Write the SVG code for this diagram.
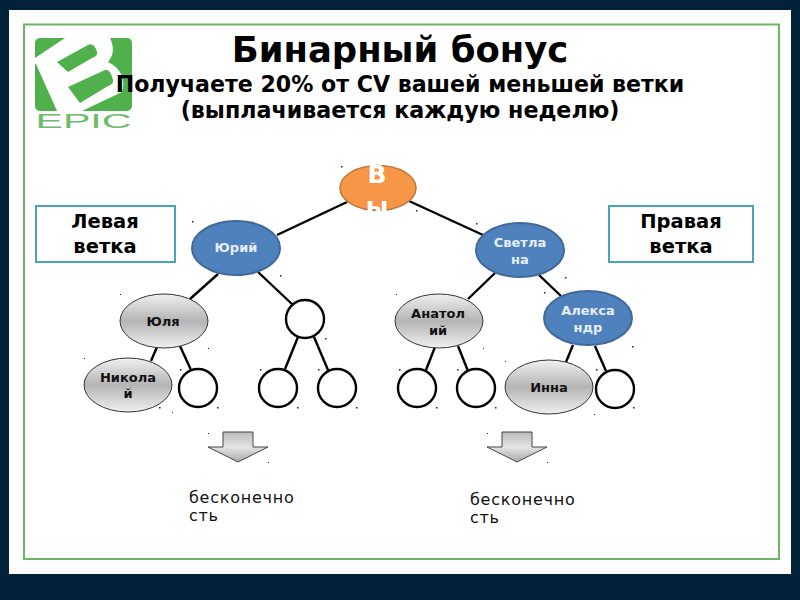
<svg xmlns="http://www.w3.org/2000/svg" width="800" height="600" viewBox="0 0 800 600">
<style>
text{font-family:"DejaVu Sans","Noto Sans",sans-serif;text-anchor:middle}
.b{font-weight:bold}
.nl{font-size:13px;font-weight:bold;fill:#111}
.nw{font-size:13px;font-weight:bold;fill:#e6eef8}
.blue{fill:#4f81bd;stroke:#41699a;stroke-width:2}
.grey{fill:url(#g);stroke:#333;stroke-width:1}
.emp{fill:#fff;stroke:#000;stroke-width:2.4}
.box{fill:#fff;stroke:#4ba3b8;stroke-width:2}
.lab{font-size:19.500px;font-weight:bold}
.inf{font-size:16px;letter-spacing:.75px;text-anchor:start;fill:#111}
.arr{fill:url(#ga);stroke:#444;stroke-width:1}
#conn line{stroke:#000;stroke-width:2.4}
</style>
<defs>
<linearGradient id="g" x1="0" y1="0" x2="0" y2="1"><stop offset="0" stop-color="#f0f0f0"/><stop offset=".5" stop-color="#b4b4b4"/><stop offset="1" stop-color="#f0f0f0"/></linearGradient>
<linearGradient id="ga" x1="0" y1="0" x2="0" y2="1"><stop offset="0" stop-color="#bbb"/><stop offset=".5" stop-color="#e4e4e4"/><stop offset="1" stop-color="#aaa"/></linearGradient>
</defs>
<rect width="800" height="600" fill="#012238"/>
<rect x="9" y="10" width="782" height="564" fill="#fff"/>
<rect x="24" y="24.500" width="755" height="534.500" fill="none" stroke="#6cb562" stroke-width="2"/>
<g id="logo">
<rect x="35" y="38" width="97" height="73" rx="5" fill="#4fb04c"/>
<path d="M35,58 L65,38 L110,38 C115,48 113,56 108,62 C121,68 126,80 122,92 L82,111 L57,111 L36,64 L35,64Z" fill="#fff"/>
<path d="M57,62 L88,45 Q94,42 97,52 Q98,56 92,58 L68,72Z M68,87 L105,70 Q110,68 113,80 Q114,84 108,86 L80,103Z" fill="#4fb04c"/>
<text x="83.500" y="128" font-size="21" textLength="96" lengthAdjust="spacingAndGlyphs" style="font-family:'Liberation Sans',sans-serif" fill="#6cbb68">EPIC</text>
</g>
<g id="title">
<text x="400" y="62" class="b" font-size="35.400">Бинарный бонус</text>
<text x="400" y="92" class="b" font-size="22.100">Получаете 20% от CV вашей меньшей ветки</text>
<text x="400" y="118" class="b" font-size="22.200">(выплачивается каждую неделю)</text>
</g>
<g id="conn">
<line x1="347" y1="202" x2="277" y2="235"/>
<line x1="409" y1="201" x2="483" y2="235"/>
<line x1="218" y1="274" x2="190" y2="299"/>
<line x1="258" y1="272" x2="293" y2="305"/>
<line x1="157" y1="347" x2="151" y2="361"/>
<line x1="180" y1="346" x2="191" y2="370"/>
<line x1="298" y1="337" x2="285" y2="369"/>
<line x1="314" y1="337" x2="328" y2="370"/>
<line x1="495" y1="273" x2="468" y2="299"/>
<line x1="539" y1="275" x2="561" y2="296"/>
<line x1="435" y1="347" x2="426" y2="370"/>
<line x1="458" y1="346" x2="468" y2="371"/>
<line x1="573" y1="345" x2="566" y2="362"/>
<line x1="595" y1="346" x2="606" y2="371"/>
</g>
<g id="left-label"><rect class="box" x="36" y="206" width="139" height="56"/><text class="lab" x="105" y="228">Левая</text><text class="lab" x="105" y="253">ветка</text></g>
<g id="right-label"><rect class="box" x="609" y="206" width="144" height="56"/><text class="lab" x="681" y="228">Правая</text><text class="lab" x="681" y="253">ветка</text></g>
<g id="you"><ellipse cx="378" cy="188" rx="38" ry="22.500" fill="#f79646" stroke="#c0763a" stroke-width="1.500"/><text x="377" y="183" class="b" font-size="25" fill="#fff">В</text><text x="377" y="215" class="b" font-size="25" fill="#fff">ы</text></g>
<g id="yuri"><ellipse class="blue" cx="236" cy="248" rx="44" ry="27"/><text class="nw" x="236" y="252">Юрий</text></g>
<g id="svetlana"><ellipse class="blue" cx="520" cy="250" rx="44" ry="27"/><text class="nw" x="520" y="247">Светла</text><text class="nw" x="520" y="264">на</text></g>
<g id="yulia"><ellipse class="grey" cx="164" cy="321" rx="44" ry="27"/><text class="nl" x="163" y="326">Юля</text></g>
<g id="n-empty1"><circle class="emp" cx="305" cy="319" r="19"/></g>
<g id="anatoly"><ellipse class="grey" cx="439" cy="321" rx="44" ry="27"/><text class="nl" x="438" y="318">Анатол</text><text class="nl" x="438" y="335">ий</text></g>
<g id="alexandr"><ellipse class="blue" cx="588" cy="318" rx="44" ry="27"/><text class="nw" x="588" y="315">Алекса</text><text class="nw" x="588" y="332">ндр</text></g>
<g id="nikolay"><ellipse class="grey" cx="128" cy="385" rx="44" ry="27"/><text class="nl" x="128" y="382">Никола</text><text class="nl" x="128" y="398">й</text></g>
<g id="n-empty2"><circle class="emp" cx="198" cy="388" r="19"/></g>
<g id="n-empty3"><circle class="emp" cx="278" cy="388" r="19"/></g>
<g id="n-empty4"><circle class="emp" cx="337" cy="388" r="19"/></g>
<g id="n-empty5"><circle class="emp" cx="417" cy="388" r="19"/></g>
<g id="n-empty6"><circle class="emp" cx="476" cy="388" r="19"/></g>
<g id="inna"><ellipse class="grey" cx="549" cy="387" rx="44" ry="27"/><text class="nl" x="549" y="392">Инна</text></g>
<g id="n-empty7"><circle class="emp" cx="615" cy="389" r="19"/></g>
<g id="arrow-left"><path class="arr" d="M223,432H253V447H268L238,462L208,447H223Z"/></g>
<g id="arrow-right"><path class="arr" d="M502,432H532V447H547L517,462L487,447H502Z"/></g>
<g id="inf-left"><text class="inf" x="189" y="503">бесконечно</text><text class="inf" x="189" y="521">сть</text></g>
<g id="inf-right"><text class="inf" x="470" y="505">бесконечно</text><text class="inf" x="470" y="523">сть</text></g>
<path id="specks" fill="#222" d="M120,294h1v1h-1zM208,348h1v1h-1zM84,358h1v1h-1zM172,412h1v1h-1zM180,369h1.500v1.500h-1.500zM217,407h1.500v1.500h-1.500zM260,369h1.500v1.500h-1.500zM297,407h1.500v1.500h-1.500zM318,369h1.500v1.500h-1.500zM356,407h1.500v1.500h-1.500zM280,275h1.500v1.500h-1.500zM325,338h1.500v1.500h-1.500zM208,433h1v1h-1zM268,462h1v1h-1zM159,407h1.500v1.500h-1.500zM396,294h1v1h-1zM483,348h1v1h-1zM457,369h1.500v1.500h-1.500zM436,407h1.500v1.500h-1.500zM495,407h1.500v1.500h-1.500zM505,361h1v1h-1zM594,414h1v1h-1zM596,369h1.500v1.500h-1.500zM633,407h1.500v1.500h-1.500zM632,346h1.500v1.500h-1.500zM544,292h1.500v1.500h-1.500zM565,277h1.500v1.500h-1.500zM487,433h1v1h-1zM547,462h1v1h-1zM341,166h1.500v1.500h-1.500zM192,221h1.500v1.500h-1.500zM416,210h1.500v1.500h-1.500zM476,223h1.500v1.500h-1.500zM399,369h1.500v1.500h-1.500z"/>
</svg>
